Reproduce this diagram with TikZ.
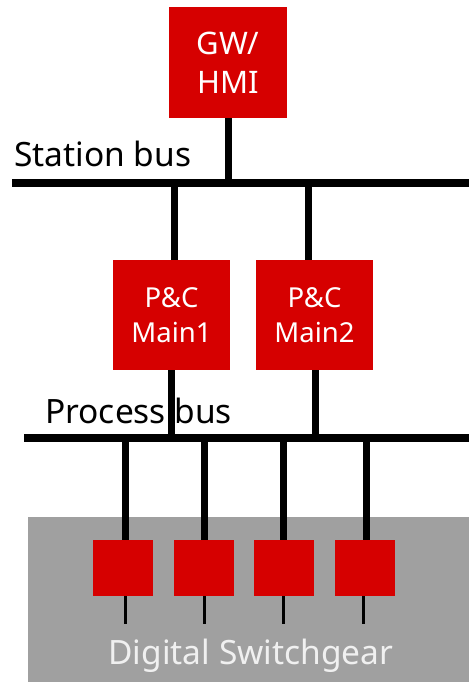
\documentclass[tikz,border=0pt]{standalone}
\usepackage{fontspec}
\setmainfont{Noto Sans}
\definecolor{boxred}{RGB}{214,0,0}
\definecolor{gearbg}{RGB}{160,160,160}
\definecolor{geartext}{RGB}{240,240,240}
\begin{document}
\begin{tikzpicture}[x=1pt,y=-1pt,
  redbox/.style={fill=boxred,draw=none,inner sep=0pt,align=center,text=white},
  bigbox/.style={redbox,minimum width=118pt,minimum height=111pt,font=\fontsize{31}{39}\selectfont},
  midbox/.style={redbox,minimum width=117pt,minimum height=110pt,font=\fontsize{27.5}{35}\selectfont},
  smallbox/.style={redbox,minimum width=60pt,minimum height=56pt},
  busline/.style={line width=8pt},
  link/.style={line width=7pt},
  thinlink/.style={line width=3pt},
  buslabel/.style={anchor=base west,inner sep=0pt,font=\fontsize{33.5}{38}\selectfont}]
\useasboundingbox (0,0) rectangle (469,682);
% switchgear background
\fill[gearbg] (28,517) rectangle (469,682);
\node[anchor=base,inner sep=0pt,text=geartext,font=\fontsize{33.5}{38}\selectfont] (dsg) at (251,664) {Digital Switchgear};
% buses
\coordinate (sbL) at (12,183);
\coordinate (sbR) at (469,183);
\coordinate (pbL) at (24,438);
\coordinate (pbR) at (469,438);
\draw[busline] (sbL) -- (sbR);
\draw[busline] (pbL) -- (pbR);
\node[buslabel] (sblabel) at (14,166) {Station bus};
\node[buslabel] (pblabel) at (45,423) {Process bus};
% boxes
\node[bigbox] (gw) at (228,62.5) {GW/\\HMI};
\node[midbox] (m1) at (171.5,315) {P\&C\\Main1};
\node[midbox] (m2) at (314.5,315) {P\&C\\Main2};
\node[smallbox] (d1) at (123,568) {};
\node[smallbox] (d2) at (204,568) {};
\node[smallbox] (d3) at (283.5,568) {};
\node[smallbox] (d4) at (365,568) {};
% connectors
\draw[link] (gw.south) -- (gw.south |- sbL);
\draw[link] (m1.north -| 174,0) -- (174,183);
\draw[link] (m2.north -| 308,0) -- (308,183);
\draw[link] (m1.south -| 171,0) -- (171,438);
\draw[link] (m2.south -| 315,0) -- (315,438);
\draw[link] (d1.north -| 125,0) -- (125,438);
\draw[link] (d2.north -| 204,0) -- (204,438);
\draw[link] (d3.north -| 283,0) -- (283,438);
\draw[link] (d4.north -| 366,0) -- (366,438);
\coordinate (e1) at (125,624);
\coordinate (e2) at (204,624);
\coordinate (e3) at (283,624);
\coordinate (e4) at (363,624);
\draw[thinlink] (d1.south -| e1) -- (e1);
\draw[thinlink] (d2.south -| e2) -- (e2);
\draw[thinlink] (d3.south -| e3) -- (e3);
\draw[thinlink] (d4.south -| e4) -- (e4);
\end{tikzpicture}
\end{document}
